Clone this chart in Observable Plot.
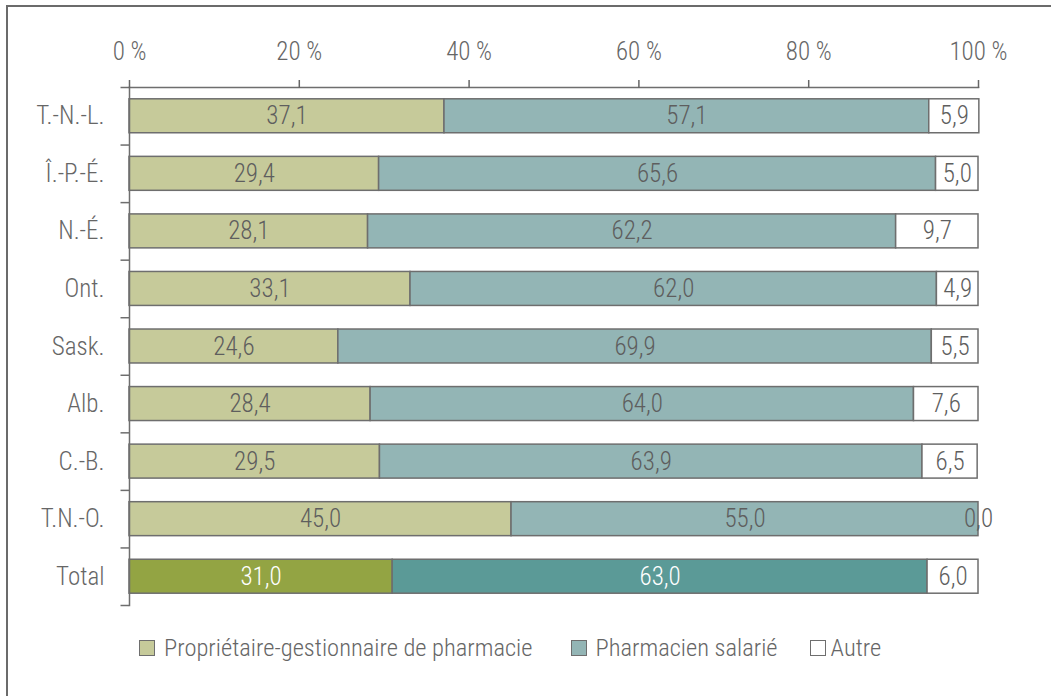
<!DOCTYPE html>
<html>
<head>
<meta charset="utf-8">
<script src="https://cdn.jsdelivr.net/npm/d3@7"></script>
<script src="https://cdn.jsdelivr.net/npm/@observablehq/plot@0.6"></script>
<style>
  html, body { margin: 0; padding: 0; background: #fff; overflow: hidden; }
  body { width: 1051px; height: 696px; position: relative;
         font-family: "Roboto Condensed", "Liberation Sans Narrow", "DejaVu Sans Condensed", "Arial Narrow", sans-serif; }
  #frame { position: absolute; left: 6px; top: 5px; width: 1200px; height: 900px;
           border-top: 2px solid #6b6b6b; border-left: 2px solid #6b6b6b; }
  #chart { position: absolute; left: 0; top: 0; }
  #legend { position: absolute; left: 139px; top: 633px; display: flex; align-items: center;
            font-size: 24.5px; font-weight: 300; color: #666; white-space: nowrap; }
  .item { display: flex; align-items: center; margin-right: 38px; }
  .item.i1 { margin-right: 32px; }
  .sw { width: 14px; height: 14px; border: 1px solid #6e6e6e; margin-right: 9px; }
  .i2 .sw { margin-right: 5px; }
</style>
</head>
<body>
<div id="frame"></div>
<div id="chart"></div>
<div id="legend"></div>
<script>
const categories = ["T.-N.-L.", "Î.-P.-É.", "N.-É.", "Ont.", "Sask.", "Alb.", "C.-B.", "T.N.-O.", "Total"];
const proprietaire = [37.1, 29.4, 28.1, 33.1, 24.6, 28.4, 29.5, 45.0, 31.0];
const salarie      = [57.1, 65.6, 62.2, 62.0, 69.9, 64.0, 63.9, 55.0, 63.0];
const autre        = [5.9, 5.0, 9.7, 4.9, 5.5, 7.6, 6.5, 0.0, 6.0];
const seriesNames = ["Propriétaire-gestionnaire de pharmacie", "Pharmacien salarié", "Autre"];
const xTicks = [0, 20, 40, 60, 80, 100];
const lightColors = ["#c6ca9a", "#93b5b5", "#ffffff"];
const totalColors = ["#93a443", "#5b9a97", "#ffffff"];
const totalTextColors = ["#ffffff", "#ffffff", "#5e5e5e"];

const seriesValues = [proprietaire, salarie, autre];
const data = [];
categories.forEach((c, i) => {
  seriesNames.forEach((s, j) => {
    data.push({cat: c, series: s, j, value: seriesValues[j][i], total: c === "Total"});
  });
});
const fmt = v => v.toFixed(1).replace(".", ",");

const W = 1051, H = 620, mTop = 87, mBottom = 15, mLeft = 129, mRight = 73;
const step = (H - mTop - mBottom) / categories.length;
const grey = "#6e6e6e";
const font = '"Roboto Condensed", "Liberation Sans Narrow", "DejaVu Sans Condensed", "Arial Narrow", sans-serif';

const plot = Plot.plot({
  width: W, height: H,
  marginTop: mTop, marginBottom: mBottom, marginLeft: mLeft, marginRight: mRight,
  style: {fontFamily: font, fontWeight: 300, background: "transparent", overflow: "visible"},
  x: {domain: [0, 100], label: null},
  y: {domain: categories, paddingInner: 0.41, paddingOuter: 0.205, round: false, label: null},
  color: {type: "identity"},
  marks: [
    Plot.barX(data, Plot.stackX({
      y: "cat", x: "value",
      fill: d => d.total ? totalColors[d.j] : lightColors[d.j],
      stroke: grey, strokeWidth: 1.5
    })),
    Plot.text(data, Plot.stackX({
      y: "cat", x: "value",
      text: d => fmt(d.value),
      fill: d => d.total ? totalTextColors[d.j] : "#5e5e5e",
      fontSize: 25
    })),
    Plot.frame({anchor: "top", stroke: grey, strokeWidth: 1.5}),
    Plot.frame({anchor: "left", stroke: grey, strokeWidth: 1.5}),
    Plot.ruleY(categories, {y: d => d, x1: -1, x2: 0, dy: -step / 2, stroke: grey, strokeWidth: 1.5}),
    Plot.ruleY(categories.slice(-1), {y: d => d, x1: -1, x2: 0, dy: step / 2, stroke: grey, strokeWidth: 1.5}),
    Plot.axisX({anchor: "top", ticks: xTicks, tickSize: 8, tickPadding: 20, label: null,
                tickFormat: d => d + " %", fontSize: 25, color: "#666", strokeWidth: 1.5}),
    Plot.axisY({tickSize: 0, tickPadding: 25, fontSize: 25, color: "#666", label: null})
  ]
});
document.getElementById("chart").appendChild(plot);

const legend = document.getElementById("legend");
seriesNames.forEach((s, j) => {
  const item = document.createElement("div");
  item.className = "item i" + j;
  const sw = document.createElement("div");
  sw.className = "sw";
  sw.style.background = lightColors[j];
  const t = document.createElement("span");
  t.textContent = s;
  item.appendChild(sw);
  item.appendChild(t);
  legend.appendChild(item);
});
</script>
</body>
</html>
